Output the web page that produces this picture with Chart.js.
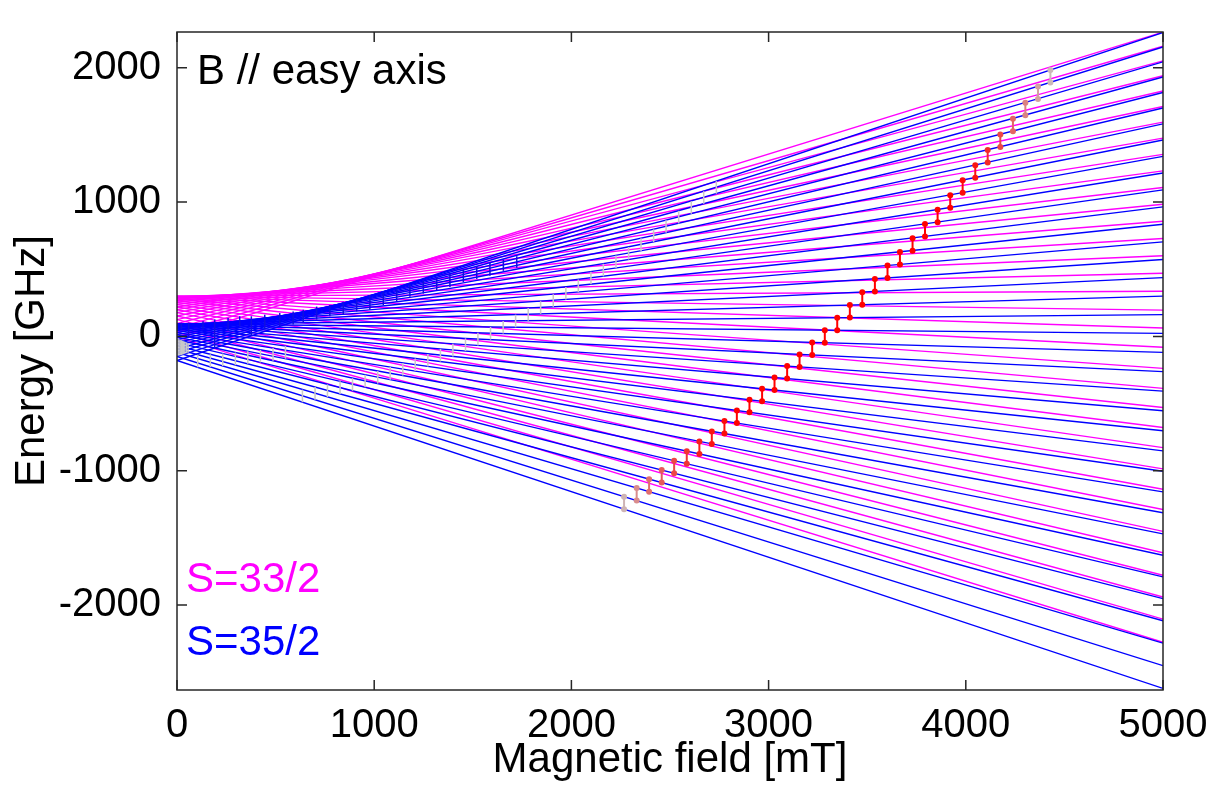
<!DOCTYPE html>
<html>
<head>
<meta charset="utf-8">
<script src="https://cdn.jsdelivr.net/npm/chart.js@4.4.0/dist/chart.umd.min.js"></script>
<style>
  html, body { margin: 0; padding: 0; background: #fff; }
  canvas { display: block; }
</style>
</head>
<body>
<canvas id="zeemanChart" width="1215" height="787"></canvas>
<script>
// Energy levels vs field, B // easy axis
// =====================================

// Field ends of every level line (mT)
const levelFields = [0, 5000];

// S=35/2 levels, M = 17.5 ... -17.5 (GHz at 0 mT and at 5000 mT)
const blueStart = [-179, -149, -120, -94, -69, -46, -25, -5, 13, 28, 43, 55, 66, 75, 82, 87, 91, 92,
                   92, 91, 87, 82, 75, 66, 55, 43, 28, 13, -5, -25, -46, -69, -94, -120, -149, -179];
const blueEnd = [2262, 2155, 2044, 1931, 1816, 1700, 1582, 1462, 1340, 1216, 1091, 964, 835, 704, 572, 438, 300, 162,
                 23, -119, -262, -407, -553, -702, -852, -1004, -1157, -1313, -1470, -1629, -1790, -1952, -2117, -2283, -2451, -2620];

// S=33/2 levels, M = 16.5 ... -16.5
const magentaStart = [-5, 31, 65, 96, 125, 152, 177, 199, 219, 237, 253, 266, 278, 287, 293, 298, 300,
                      300, 298, 293, 287, 278, 266, 253, 237, 219, 199, 177, 152, 125, 96, 65, 31, -5];
const magentaEnd = [2265, 2160, 2051, 1940, 1827, 1712, 1595, 1476, 1355, 1232, 1109, 984, 857, 729, 600, 470, 336,
                    196, 63, -81, -238, -387, -529, -678, -828, -986, -1138, -1289, -1451, -1610, -1778, -1940, -2105, -2277];

// Main (dM=1) transitions: field, lower and upper level, relative intensity
const redField = [2267, 2331, 2394, 2458, 2521, 2585, 2649, 2712, 2776, 2839, 2903, 2967, 3030, 3094, 3157, 3221, 3285, 3348,
                  3412, 3475, 3539, 3603, 3666, 3730, 3793, 3857, 3921, 3984, 4048, 4111, 4175, 4239, 4302, 4366, 4429];
const redLow = [-1286, -1222, -1156, -1088, -1019, -948, -875, -800, -723, -645, -565, -483, -399, -314, -227, -138, -47, 46,
                140, 236, 334, 434, 535, 638, 743, 850, 958, 1069, 1181, 1294, 1410, 1527, 1647, 1767, 1890];
const redHigh = [-1193, -1129, -1063, -995, -926, -855, -782, -707, -630, -552, -472, -390, -306, -221, -134, -45, 46, 139,
                 233, 329, 427, 527, 628, 731, 836, 943, 1051, 1162, 1274, 1387, 1503, 1620, 1740, 1860, 1983];
const redIntensity = [0.1, 0.3, 0.45, 0.55, 0.65, 0.75, 0.85, 0.9, 0.95, 1, 1, 1, 1, 1, 1, 1, 1, 1,
                      1, 1, 1, 1, 1, 1, 1, 1, 1, 0.95, 0.9, 0.8, 0.65, 0.5, 0.35, 0.2, 0.08];

// Half-field (dM=2) transitions
const grayField = [636, 700, 763, 827, 890, 954, 1018, 1081, 1145, 1208, 1272, 1336, 1399, 1463, 1526, 1590, 1654,
                   1717, 1781, 1844, 1908, 1972, 2035, 2099, 2162, 2226, 2290, 2353, 2417, 2480, 2544, 2608, 2671, 2735];
const grayLow = [-490, -471, -451, -428, -405, -379, -351, -322, -291, -258, -224, -187, -149, -109, -67, -24, 21,
                 68, 117, 168, 220, 274, 330, 388, 447, 509, 572, 636, 703, 771, 841, 913, 987, 1062];
const grayHigh = [-396, -377, -357, -334, -311, -285, -257, -228, -197, -164, -130, -93, -55, -15, 27, 70, 115,
                  162, 211, 262, 314, 368, 424, 482, 541, 603, 666, 730, 797, 865, 935, 1007, 1081, 1156];

// Weak transitions close to zero field
const lowGrayField = [4, 10, 16, 22, 28, 34, 40, 48, 56, 105, 169, 232, 296, 359, 423, 487, 550];
const lowGrayLow = [-140, -142, -140, -138, -135, -132, -128, -125, -122, -230, -227, -221, -214, -204, -194, -181, -166];
const lowGrayHigh = [-20, -22, -25, -28, -32, -36, -40, -45, -50, -136, -133, -127, -120, -110, -100, -87, -72];

// Blue marks along the low-field band
const blueTickField = [22, 59, 132, 191, 259, 318, 377, 445, 521, 589, 640, 708, 775, 843, 911, 978, 1046, 1114,
                       1181, 1249, 1317, 1384, 1452, 1520, 1587, 1655, 1723];
const blueTickLow = [53, -7, 53, -92, 41, 77, 5, 53, 77, 89, 102, 126, 150, 162, 186, 198, 234, 258,
                     295, 319, 343, 367, 404, 428, 452, 488, 512];
const blueTickHigh = [102, 102, 113, 126, 138, 150, 150, 162, 174, 186, 198, 222, 234, 258, 283, 307, 331, 356,
                      392, 416, 440, 464, 501, 525, 549, 573, 597];

const xTicks = [0, 1000, 2000, 3000, 4000, 5000];
const yTicks = [-2000, -1000, 0, 1000, 2000];

const FONT = '"Liberation Sans", Arial, Helvetica, sans-serif';
const MAGENTA = '#ff00ff';
const BLUE = '#0000ff';

// gray -> red depending on intensity
function intensityColor(t) {
    const r = Math.round(200 + 55 * t);
    const gb = Math.round(200 * (1 - t));
    return `rgb(${r}, ${gb}, ${gb})`;
}

function levelDataset(start, end, color) {
    return {
        data: [{ x: levelFields[0], y: start }, { x: levelFields[1], y: end }],
        borderColor: color,
        borderWidth: 1.4,
        pointRadius: 0,
        order: color === MAGENTA ? 5 : 4
    };
}

function markDataset(field, low, high, color, width, dot, order) {
    return {
        data: [{ x: field, y: low }, { x: field, y: high }],
        borderColor: color,
        backgroundColor: color,
        borderWidth: width,
        pointRadius: dot,
        pointBorderWidth: 0,
        pointBackgroundColor: color,
        order: order
    };
}

const datasets = [];
magentaStart.forEach((v, i) => datasets.push(levelDataset(v, magentaEnd[i], MAGENTA)));
blueStart.forEach((v, i) => datasets.push(levelDataset(v, blueEnd[i], BLUE)));
lowGrayField.forEach((f, i) => datasets.push(markDataset(f, lowGrayLow[i], lowGrayHigh[i], '#c8c8c8', 1.5, 0, 3)));
grayField.forEach((f, i) => datasets.push(markDataset(f, grayLow[i], grayHigh[i], '#c8c8c8', 1.5, 0, 3)));
blueTickField.forEach((f, i) => datasets.push(markDataset(f, blueTickLow[i], blueTickHigh[i], '#1010e0', 1.5, 0, 2)));
redField.forEach((f, i) => {
    const c = intensityColor(redIntensity[i]);
    datasets.push(markDataset(f, redLow[i], redHigh[i], c, 2, 3, 1));
});

// Box with inward ticks and the in-plot texts
const framePlugin = {
    id: 'frame',
    afterDraw(chart) {
        const { ctx, chartArea: a, scales: { x, y } } = chart;
        ctx.save();
        ctx.strokeStyle = '#262626';
        ctx.lineWidth = 1.5;
        ctx.strokeRect(a.left, a.top, a.right - a.left, a.bottom - a.top);
        ctx.beginPath();
        xTicks.forEach(v => {
            const px = x.getPixelForValue(v);
            ctx.moveTo(px, a.bottom); ctx.lineTo(px, a.bottom - 10);
            ctx.moveTo(px, a.top); ctx.lineTo(px, a.top + 10);
        });
        yTicks.forEach(v => {
            const py = y.getPixelForValue(v);
            ctx.moveTo(a.left, py); ctx.lineTo(a.left + 10, py);
            ctx.moveTo(a.right, py); ctx.lineTo(a.right - 10, py);
        });
        ctx.stroke();

        ctx.font = '42px ' + FONT;
        ctx.textBaseline = 'alphabetic';
        ctx.textAlign = 'left';
        ctx.fillStyle = '#000';
        ctx.fillText('B // easy axis', a.left + 20, a.top + 52);
        ctx.fillStyle = MAGENTA;
        ctx.fillText('S=33/2', a.left + 9, a.top + 560);
        ctx.fillStyle = BLUE;
        ctx.fillText('S=35/2', a.left + 9, a.top + 623);
        ctx.restore();
    }
};

new Chart(document.getElementById('zeemanChart'), {
    type: 'line',
    data: { datasets: datasets },
    plugins: [framePlugin],
    options: {
        responsive: false,
        animation: false,
        devicePixelRatio: 1,
        layout: { padding: { top: 15, right: 52, left: 0, bottom: 0 } },
        plugins: {
            legend: { display: false },
            tooltip: { enabled: false }
        },
        scales: {
            x: {
                type: 'linear',
                min: 0,
                max: 5000,
                afterBuildTicks: s => { s.ticks = xTicks.map(v => ({ value: v })); },
                afterFit: s => { s.height = 97; },
                grid: { display: false },
                border: { display: false },
                ticks: {
                    font: { size: 40, family: FONT },
                    color: '#000',
                    padding: 4,
                    maxRotation: 0,
                    autoSkip: false,
                    callback: v => String(v)
                },
                title: {
                    display: true,
                    text: 'Magnetic field [mT]',
                    font: { size: 42, family: FONT },
                    color: '#000',
                    padding: { top: 0, bottom: 1 }
                }
            },
            y: {
                type: 'linear',
                min: -2632,
                max: 2266,
                afterBuildTicks: s => { s.ticks = yTicks.map(v => ({ value: v })); },
                afterFit: s => { s.width = 177; },
                grid: { display: false },
                border: { display: false },
                ticks: {
                    font: { size: 40, family: FONT },
                    color: '#000',
                    padding: 8,
                    autoSkip: false,
                    callback: v => String(v)
                },
                title: {
                    display: true,
                    text: 'Energy [GHz]',
                    font: { size: 42, family: FONT },
                    color: '#000',
                    padding: { top: 7, bottom: 0 }
                }
            }
        }
    }
});
</script>
</body>
</html>
